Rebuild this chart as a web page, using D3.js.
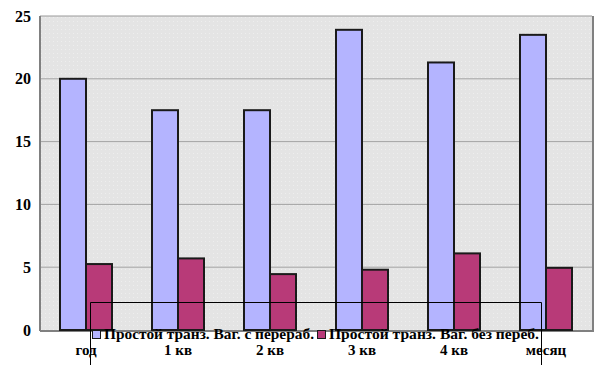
<!DOCTYPE html>
<html>
<head>
<meta charset="utf-8">
<script src="https://cdn.jsdelivr.net/npm/d3@7"></script>
<style>
  body { margin: 0; background: #fff; }
  text { font-family: "Liberation Serif", "Times New Roman", serif; font-weight: bold; }
</style>
</head>
<body>
<div id="chart"></div>
<script>
const categories = ['год', '1 кв', '2 кв', '3 кв', '4 кв', 'месяц'];
const seriesNames = ['Простой транз. Ваг. с перераб.', 'Простой транз. Ваг. без переб.'];
const withProcessing = [20.0, 17.5, 17.5, 23.9, 21.3, 23.5];
const withoutProcessing = [5.25, 5.7, 4.45, 4.8, 6.1, 4.95];
const yTicks = [0, 5, 10, 15, 20, 25];

const colors = ['#b4b4ff', '#b83a78'];
const width = 610, height = 365;
const margin = {left: 40, top: 16, right: 18, bottom: 35};
const plotW = width - margin.left - margin.right;
const plotH = height - margin.top - margin.bottom;
const barW = 26;

let svg = d3.select('#chart').append('svg')
    .attr('width', width).attr('height', height);

let defs = svg.append('defs');
let pattern = defs.append('pattern').attr('id', 'dots')
    .attr('width', 4).attr('height', 4).attr('patternUnits', 'userSpaceOnUse');
pattern.append('rect').attr('width', 4).attr('height', 4).attr('fill', '#e4e4e4');
pattern.append('rect').attr('x', 1).attr('y', 1).attr('width', 1).attr('height', 1).attr('fill', '#eeeeee');

let g = svg.append('g').attr('transform', 'translate(' + margin.left + ',' + margin.top + ')');

let x = d3.scaleBand().domain(categories).range([0, plotW]);
let y = d3.scaleLinear().domain([0, 25]).range([plotH, 0]);

// plot background
g.append('rect').attr('width', plotW).attr('height', plotH).attr('fill', 'url(#dots)');

// gridlines
g.selectAll('.grid').data(yTicks.slice(1, -1)).enter().append('line')
    .attr('x1', 0).attr('x2', plotW)
    .attr('y1', d => y(d)).attr('y2', d => y(d))
    .attr('stroke', '#a4a4a4').attr('stroke-width', 1);

// frame
g.append('line').attr('x1', 0).attr('x2', plotW).attr('y1', 0).attr('y2', 0)
    .attr('stroke', '#9a9a9a').attr('stroke-width', 1);
g.append('line').attr('x1', plotW + 1).attr('x2', plotW + 1).attr('y1', 0).attr('y2', plotH + 1)
    .attr('stroke', '#808080').attr('stroke-width', 2);
g.append('line').attr('x1', 0).attr('x2', 0).attr('y1', 0).attr('y2', plotH + 1)
    .attr('stroke', '#808080').attr('stroke-width', 2);
g.append('line').attr('x1', 0).attr('x2', plotW + 2).attr('y1', plotH + 1).attr('y2', plotH + 1)
    .attr('stroke', '#808080').attr('stroke-width', 2);

// bars
[withProcessing, withoutProcessing].forEach(function(series, si) {
    g.selectAll('.bar' + si).data(series).enter().append('rect')
        .attr('class', 'bar' + si)
        .attr('x', (d, i) => x(categories[i]) + x.bandwidth() / 2 - barW + si * barW)
        .attr('y', d => y(d))
        .attr('width', barW)
        .attr('height', d => plotH - y(d))
        .attr('fill', colors[si])
        .attr('stroke', '#1a1a1a').attr('stroke-width', 2);
});

// y axis labels
let yAxis = d3.axisLeft(y).tickValues(yTicks).tickSize(0).tickPadding(9);
let yg = g.append('g').call(yAxis);
yg.select('.domain').remove();
yg.selectAll('text').attr('font-size', '16px').attr('fill', '#000')
    .attr('font-family', '"Liberation Serif", serif').attr('font-weight', 'bold');

// x axis labels
let xAxis = d3.axisBottom(x).tickSize(0).tickPadding(14);
let xg = g.append('g').attr('transform', 'translate(0,' + plotH + ')').call(xAxis);
xg.select('.domain').remove();
xg.selectAll('text').attr('font-size', '15px').attr('fill', '#000')
    .attr('font-family', '"Liberation Serif", serif').attr('font-weight', 'bold');

// legend
let legend = svg.append('g');
legend.append('path')
    .attr('d', 'M90.5,366 V302.5 H541.5 V366')
    .attr('fill', 'none').attr('stroke', '#000').attr('stroke-width', 1);
let lx = [92, 317];
let textEnd = [314, 539];
seriesNames.forEach(function(name, i) {
    legend.append('rect').attr('x', lx[i] + 0.5).attr('y', 330.5).attr('width', 8).attr('height', 8)
        .attr('fill', colors[i]).attr('stroke', '#1a1a1a').attr('stroke-width', 1);
    legend.append('text').attr('x', lx[i] + 12).attr('y', 339)
        .attr('font-size', '15px').attr('fill', '#000')
        .attr('textLength', textEnd[i] - lx[i] - 12).attr('lengthAdjust', 'spacingAndGlyphs')
        .text(name);
});
</script>
</body>
</html>
